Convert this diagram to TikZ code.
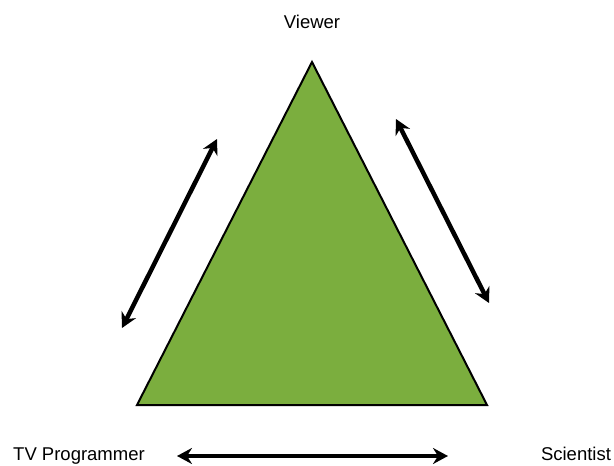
\documentclass[tikz,border=0pt]{standalone}
\usepackage{fontspec}
\setmainfont{Liberation Sans}
\usetikzlibrary{arrows.meta}
\definecolor{trigreen}{HTML}{7BAE3E}
\tikzset{
  lbl/.style={font=\fontsize{18.5}{20}\selectfont, anchor=base, inner sep=0pt},
  tri/.style={fill=trigreen, draw=black, line width=2pt, line join=miter},
  dblarrow/.style={line width=4.5pt, {Stealth[length=15pt,width=16pt,inset=5pt]}-{Stealth[length=15pt,width=16pt,inset=5pt]}}
}
\begin{document}
\begin{tikzpicture}[x=1pt,y=-1pt]
\useasboundingbox (0,0) rectangle (614,466);
% triangle corners
\coordinate (apex) at (312,62);
\coordinate (bl) at (137,405);
\coordinate (br) at (487,405);
\draw[tri] (apex) -- (bl) -- (br) -- cycle;
% labels
\node[lbl] (viewer) at (312,28) {Viewer};
\node[lbl] (tvp) at (79,460) {TV Programmer};
\node[lbl] (sci) at (576,460) {Scientist};
% arrows
\coordinate (la) at (122,328);
\coordinate (lb) at (217,139);
\coordinate (ra) at (396,119);
\coordinate (rb) at (489,303);
\coordinate (ba) at (177,456);
\coordinate (bb) at (448,456);
\draw[dblarrow] (la) -- (lb);
\draw[dblarrow] (ra) -- (rb);
\draw[dblarrow] (ba) -- (bb);
\end{tikzpicture}
\end{document}
